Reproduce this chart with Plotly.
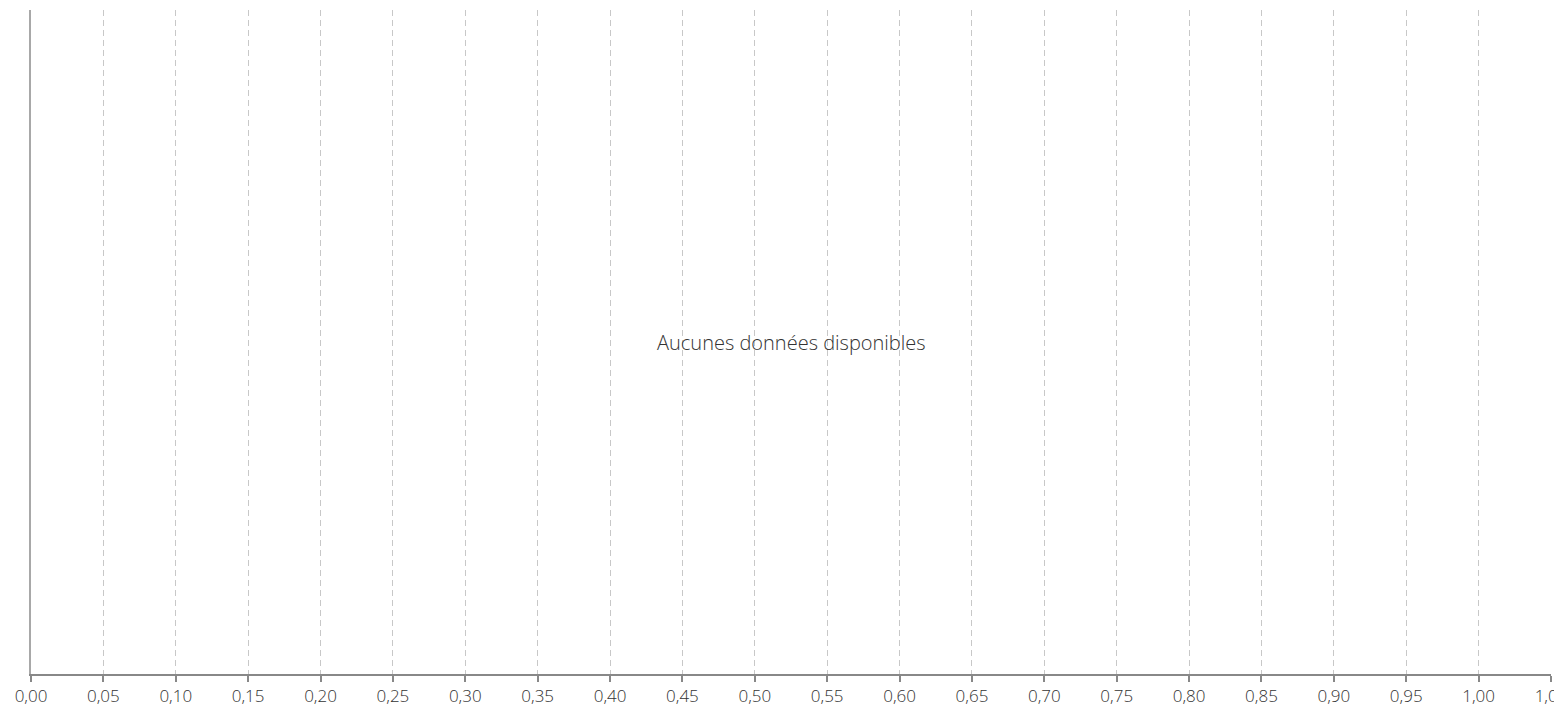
import plotly.graph_objects as go

# Data (empty chart)
x_values = []
y_values = []
x_range = [0.0, 1.05]
x_tick_step = 0.05
message = "Aucunes données disponibles"

fig = go.Figure()
fig.add_trace(go.Scatter(x=x_values, y=y_values, mode="markers", showlegend=False))

fig.update_layout(
    width=1562, height=708,
    margin=dict(l=23, r=19, t=2, b=42, autoexpand=False),
    paper_bgcolor="white", plot_bgcolor="white",
    separators=", ",
    font=dict(family="Open Sans", color="#444444"),
    showlegend=False,
)
fig.update_xaxes(
    range=[x_range[0], x_range[1] + 1e-9], dtick=x_tick_step, tick0=0, tickformat=".2f",
    showgrid=True, gridcolor="#c8c8c8", griddash="6px,4px", gridwidth=1,
    showline=True, linecolor="#888888", linewidth=2,
    ticks="outside", ticklen=6, tickwidth=2, tickcolor="#888888",
    tickfont=dict(size=17, color="#333333", family="Open Sans", weight=300),
    zeroline=False, fixedrange=True, automargin=False,
)
fig.update_yaxes(
    range=[0, 1], showticklabels=False, showgrid=False, zeroline=False,
    showline=True, linecolor="#a8a8a8", linewidth=2, fixedrange=True, automargin=False,
)
fig.add_annotation(
    text=message, xref="paper", yref="paper", x=0.5, y=0.5,
    showarrow=False, font=dict(size=20, color="#333333", family="Open Sans", weight=300),
)

fig.write_html("out.html")
